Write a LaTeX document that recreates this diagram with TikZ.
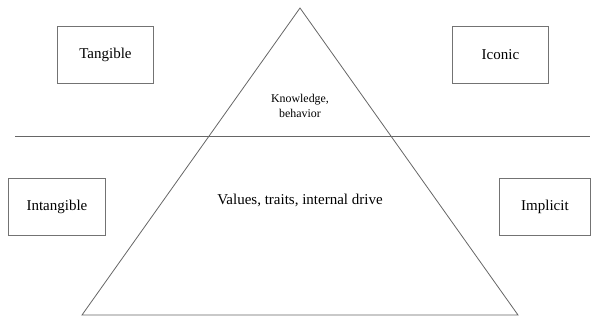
\documentclass[tikz,border=0pt]{standalone}
\usepackage{fontspec}
\setmainfont{Liberation Serif}
\begin{document}
\begin{tikzpicture}[x=1pt,y=-1pt,
  labelbox/.style={draw=black!55,line width=0.9pt,minimum width=96pt,minimum height=57pt,inner sep=0pt,font=\fontsize{15}{18}\selectfont,anchor=north west},
  edge/.style={draw=black!60,line width=0.8pt}]
\useasboundingbox (0,0) rectangle (592,320);
\coordinate (apex) at (300,8);
\coordinate (bl) at (82,315);
\coordinate (br) at (518,315);
\coordinate (hl) at (15,136);
\coordinate (hr) at (590,136);
\draw[edge] (hl) -- (hr);
\draw[edge] (apex) -- (bl) -- (br) -- cycle;
\node[labelbox] (tangible) at (57,26) {Tangible};
\node[labelbox] (iconic) at (452,26) {Iconic};
\node[labelbox,minimum width=97pt] (intangible) at (8,178) {Intangible};
\node[labelbox,minimum width=91pt] (implicit) at (499,178) {Implicit};
\node[align=center,font=\fontsize{11.9}{15}\selectfont] (know) at (300,105.5) {Knowledge,\\behavior};
\node[font=\fontsize{15}{18}\selectfont] (values) at (300,200) {Values, traits, internal drive};
\end{tikzpicture}
\end{document}
